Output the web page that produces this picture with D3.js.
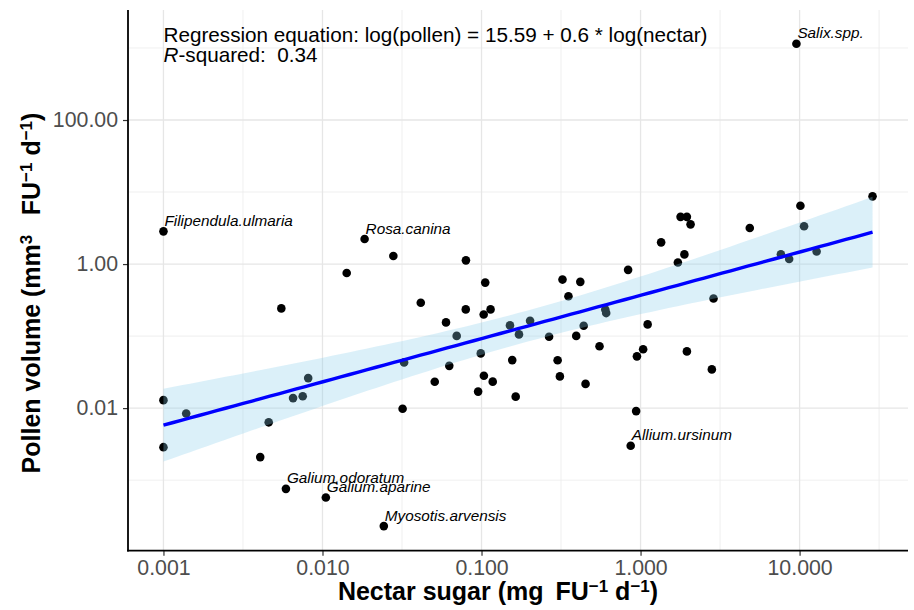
<!DOCTYPE html>
<html><head><meta charset="utf-8">
<script src="https://cdn.jsdelivr.net/npm/d3@7"></script>
<style>
html,body{margin:0;padding:0;background:#fff;}
svg{display:block;font-family:"Liberation Sans",Arial,Helvetica,sans-serif;}
</style></head>
<body><svg id="chart" width="914" height="610"></svg>
<script>
// ---- data ----
const nectar = [0.001, 0.001, 0.001, 0.00139, 0.00459, 0.00406, 0.00551, 0.00653, 0.00751, 0.00813,
  0.00589, 0.0105, 0.0243, 0.0142, 0.0184, 0.0279, 0.0319, 0.0326, 0.0415, 0.0508,
  0.0598, 0.0627, 0.0698, 0.0798, 0.0796, 0.0952, 0.0989, 0.1035, 0.1176, 0.1055,
  0.1032, 0.114, 0.151, 0.156, 0.164, 0.172, 0.202, 0.266, 0.301, 0.311,
  0.323, 0.352, 0.418, 0.394, 0.439, 0.552, 0.451, 0.600, 0.608, 0.835,
  0.949, 1.038, 1.108, 0.938, 0.867, 1.347, 1.717, 1.887, 1.785, 1.956,
  2.063, 1.956, 2.876, 2.807, 4.862, 7.63, 8.60, 10.12, 10.67, 12.8,
  28.76, 9.55];
const pollen = [2.846, 0.0129, 0.00287, 0.00844, 0.00635, 0.00209, 0.2425, 0.01377, 0.01459, 0.0261,
  0.000757, 0.000575, 0.00023, 0.75, 2.224, 1.292, 0.00978, 0.0431, 0.290, 0.0232,
  0.155, 0.0386, 0.1006, 1.126, 0.2349, 0.01695, 0.0575, 0.0282, 0.0233, 0.553,
  0.199, 0.2349, 0.1408, 0.0464, 0.01444, 0.1056, 0.1631, 0.0978, 0.0461, 0.02756,
  0.609, 0.357, 0.566, 0.1006, 0.139, 0.0722, 0.0217, 0.2334, 0.2087, 0.831,
  0.0523, 0.0656, 0.1454, 0.00909, 0.0030, 2.001, 1.049, 1.363, 4.524, 4.524,
  3.559, 0.0613, 0.332, 0.0345, 3.162, 1.368, 1.173, 6.451, 3.35, 1.491,
  8.715, 1147];
const labelIndex = [0, 10, 11, 12, 14, 54, 71];
const labelNames = ["Filipendula.ulmaria", "Galium.odoratum", "Galium.aparine", "Myosotis.arvensis",
  "Rosa.canina", "Allium.ursinum", "Salix.spp."];
const xTickValues = [0.001, 0.01, 0.1, 1, 10];
const xTickLabels = ["0.001", "0.010", "0.100", "1.000", "10.000"];
const yTickValues = [100, 1, 0.01];
const yTickLabels = ["100.00", "1.00", "0.01"];
const annotAnchor = [0.001, 1535];
const eqText = "Regression equation: log(pollen) = 15.59 + 0.6 * log(nectar)";
const r2Value = "0.34";
const tCrit = 1.994; // t(0.975, df = 70)

// ---- layout ----
const svg = d3.select("#chart");
const L = 128, R = 908, T = 10, B = 550.7;
const lx = nectar.map(Math.log10), ly = pollen.map(Math.log10);
function expand(lo, hi){ const d = (hi - lo) * 0.05; return [lo - d, hi + d]; }
const xdL = expand(d3.min(lx), d3.max(lx));
const ydL = expand(Math.min(d3.min(ly), Math.log10(annotAnchor[1])), Math.max(d3.max(ly), Math.log10(annotAnchor[1])));
const x = d3.scaleLog().domain(xdL.map(v => 10 ** v)).range([L, R]);
const y = d3.scaleLog().domain(ydL.map(v => 10 ** v)).range([B, T]);

// ---- grid ----
const grid = svg.append("g");
const xMajor = d3.range(Math.ceil(xdL[0]), Math.floor(xdL[1]) + 1);
const xMinor = d3.range(Math.ceil(xdL[0] - 0.5), Math.floor(xdL[1] - 0.5) + 1).map(v => v + 0.5);
const yMajor = [2, 0, -2];
const yMinor = [3, 1, -1, -3];
grid.selectAll(".xmi").data(xMinor).join("line").attr("x1", d => x(10 ** d)).attr("x2", d => x(10 ** d))
  .attr("y1", T).attr("y2", B).attr("stroke", "#ebebeb").attr("stroke-width", 0.8);
grid.selectAll(".ymi").data(yMinor).join("line").attr("y1", d => y(10 ** d)).attr("y2", d => y(10 ** d))
  .attr("x1", L).attr("x2", R).attr("stroke", "#ebebeb").attr("stroke-width", 0.8);
grid.selectAll(".xma").data(xMajor).join("line").attr("x1", d => x(10 ** d)).attr("x2", d => x(10 ** d))
  .attr("y1", T).attr("y2", B).attr("stroke", "#e6e6e6").attr("stroke-width", 1.3);
grid.selectAll(".yma").data(yMajor).join("line").attr("y1", d => y(10 ** d)).attr("y2", d => y(10 ** d))
  .attr("x1", L).attr("x2", R).attr("stroke", "#e6e6e6").attr("stroke-width", 1.3);

// ---- points ----
svg.append("g").selectAll("circle").data(nectar).join("circle")
  .attr("cx", (d, i) => x(d)).attr("cy", (d, i) => y(pollen[i])).attr("r", 4.3).attr("fill", "#000");

// ---- regression (OLS on log10 scale) with 95% CI ----
const n = lx.length, mx = d3.mean(lx), my = d3.mean(ly);
let sxx = 0, sxy = 0;
for (let i = 0; i < n; i++){ sxx += (lx[i]-mx)**2; sxy += (lx[i]-mx)*(ly[i]-my); }
const b1 = sxy / sxx, b0 = my - b1 * mx;
let sse = 0; for (let i = 0; i < n; i++){ sse += (ly[i] - b0 - b1*lx[i])**2; }
const s = Math.sqrt(sse / (n - 2));
const xs = d3.range(0, 81).map(k => d3.min(lx) + (d3.max(lx) - d3.min(lx)) * k / 80);
const fit = xs.map(v => { const f = b0 + b1*v; const se = s*Math.sqrt(1/n + (v-mx)**2/sxx);
  return {x: 10**v, y: 10**f, lo: 10**(f - tCrit*se), hi: 10**(f + tCrit*se)}; });
svg.append("path").datum(fit).attr("fill", "#87ceeb").attr("fill-opacity", 0.3)
  .attr("d", d3.area().x(d => x(d.x)).y0(d => y(d.lo)).y1(d => y(d.hi)));
svg.append("path").datum(fit).attr("fill", "none").attr("stroke", "#0000ff").attr("stroke-width", 3.4)
  .attr("d", d3.line().x(d => x(d.x)).y(d => y(d.y)));

// ---- point labels ----
svg.append("g").selectAll("text").data(labelIndex).join("text")
  .attr("x", d => x(nectar[d]) + 1).attr("y", d => y(pollen[d]) - 5.5)
  .attr("font-size", 15.3).attr("font-style", "italic").attr("fill", "#000")
  .text((d, i) => labelNames[i]);

// ---- annotation ----
const ax = x(annotAnchor[0]), ay = y(annotAnchor[1]);
svg.append("text").attr("x", ax).attr("y", ay + 7.3).attr("font-size", 20.7).attr("fill", "#000").text(eqText);
const r2 = svg.append("text").attr("x", ax).attr("y", ay + 27.8).attr("font-size", 20.7).attr("fill", "#000")
  .attr("xml:space", "preserve").style("white-space", "pre");
r2.append("tspan").attr("font-style", "italic").text("R");
r2.append("tspan").text("-squared:  " + r2Value);

// ---- axes ----
const xAxis = svg.append("g").attr("transform", `translate(0,${B})`)
  .call(d3.axisBottom(x).tickValues(xTickValues).tickFormat((d, i) => xTickLabels[i]).tickSize(5).tickPadding(4));
const yAxis = svg.append("g").attr("transform", `translate(${L},0)`)
  .call(d3.axisLeft(y).tickValues(yTickValues).tickFormat((d, i) => yTickLabels[i]).tickSize(5).tickPadding(5));
[xAxis, yAxis].forEach(g => {
  g.select(".domain").remove();
  g.selectAll(".tick line").attr("stroke", "#333").attr("stroke-width", 1.2);
  g.selectAll(".tick text").attr("fill", "#4d4d4d").attr("font-size", 21.3)
    .attr("font-family", "'Liberation Sans',Arial,Helvetica,sans-serif");
});
svg.append("line").attr("x1", L).attr("x2", L).attr("y1", T).attr("y2", B + 0.8).attr("stroke", "#000").attr("stroke-width", 1.8);
svg.append("line").attr("x1", L - 0.9).attr("x2", R).attr("y1", B).attr("y2", B).attr("stroke", "#000").attr("stroke-width", 1.8);

// ---- axis titles ----
const xt = svg.append("text").attr("x", 498).attr("y", 600).attr("text-anchor", "middle")
  .attr("font-size", 25).attr("font-weight", "bold").attr("fill", "#000");
xt.append("tspan").text("Nectar sugar (mg\u2009 FU");
xt.append("tspan").attr("font-size", 17).attr("dy", -8).text("\u22121");
xt.append("tspan").attr("dy", 8).text(" d");
xt.append("tspan").attr("font-size", 17).attr("dy", -8).text("\u22121");
xt.append("tspan").attr("dy", 8).text(")");

const yt = svg.append("text").attr("transform", "translate(40,293) rotate(-90)").attr("text-anchor", "middle")
  .attr("font-size", 25).attr("font-weight", "bold").attr("fill", "#000");
yt.append("tspan").text("Pollen volume (mm");
yt.append("tspan").attr("font-size", 17).attr("dy", -8).text("3");
yt.append("tspan").attr("dy", 8).text("\u2002 FU");
yt.append("tspan").attr("font-size", 17).attr("dy", -8).text("\u22121");
yt.append("tspan").attr("dy", 8).text(" d");
yt.append("tspan").attr("font-size", 17).attr("dy", -8).text("\u22121");
yt.append("tspan").attr("dy", 8).text(")");
</script></body></html>
